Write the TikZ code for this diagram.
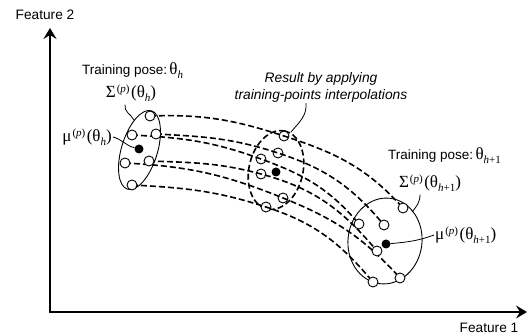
\documentclass[tikz,border=0pt]{standalone}
\usepackage{fontspec}
\setmainfont{Liberation Sans}
\newfontfamily\serf{Liberation Serif}
\usetikzlibrary{arrows.meta,shapes.geometric}

% raised / lowered script parts of the Greek labels
\newcommand\upsc[1]{\raisebox{0.6ex}{\fontsize{11}{11}\selectfont #1}}
\newcommand\dnsc[1]{\raisebox{-0.5ex}{\fontsize{11}{11}\selectfont #1}}
% Sigma^{(p)}(theta_x) style label
\newcommand\gsym[2]{{\serf\fontsize{17}{17}\selectfont #1\kern1pt\upsc{(\textit{p})}\kern1.5pt(θ\dnsc{#2})}}

\tikzset{
  axis/.style={line width=2.8pt, line join=miter,
    {Stealth[length=11pt,width=13pt,inset=4pt]}-{Stealth[length=11pt,width=13pt,inset=4pt]}},
  ptopen/.style={circle, draw, fill=white, line width=0.9pt, minimum size=10pt, inner sep=0pt},
  ptfull/.style={circle, fill=black, minimum size=9pt, inner sep=0pt},
  track/.style={line width=1.6pt, dash pattern=on 6pt off 3pt},
  pose/.style={ellipse, draw, line width=0.9pt, inner sep=0pt},
  leader/.style={line width=0.8pt},
  big/.style={font=\fontsize{13.7}{16}\selectfont},
  small/.style={font=\fontsize{13.5}{16}\selectfont, inner sep=0pt},
}

\begin{document}
\begin{tikzpicture}[x=1pt,y=1pt]
\fill[white] (0,0) rectangle (528,336);
\useasboundingbox (0,0) rectangle (528,336);

% axes
\coordinate (O) at (50,24);
\coordinate (Ytip) at (50,308);
\coordinate (Xtip) at (527,24);
\draw[axis] (Ytip) -- (O) -- (Xtip);
\node[big] (f2) at (45,321) {Feature 2};
\node[big] (f1) at (489,8) {Feature 1};

% interpolated set (middle)
\node[pose, track, minimum width=80pt, minimum height=54pt, rotate=77] (EM) at (276,166) {};
\node[ptopen] (M1) at (284,200) {};
\node[ptopen] (M2) at (278,183) {};
\node[ptopen] (M3) at (261,177) {};
\node[ptfull] (M4) at (276,164) {};
\node[ptopen] (M5) at (261,162) {};
\node[ptopen] (M6) at (283,138) {};
\node[ptopen] (M7) at (266,129) {};

% training points of pose h and h+1
\coordinate (l1) at (150,220);
\coordinate (l2) at (132,201);
\coordinate (l3) at (156,202);
\coordinate (l5) at (125,173);
\coordinate (l6) at (149,175);
\coordinate (l7) at (132,151);
\coordinate (r1) at (403,128);
\coordinate (r2) at (359,112);
\coordinate (r3) at (384,111);
\coordinate (r5) at (377,85);
\coordinate (r6) at (400,58);
\coordinate (r7) at (373,54);

% trajectories
\draw[track] (l1) to[out=2,in=162] (M1.center) to[out=-18,in=132] (r1);
\draw[track] (l3) to[out=-3,in=162] (M2.center) to[out=-18,in=130] (r3);
\draw[track] (l2) to[out=-3,in=160] (M3.center) to[out=-20,in=130] (r2);
\draw[track] (l6) to[out=-2,in=165] (M5.center) to[out=-15,in=130] (r5);
\draw[track] (l5) to[out=-3,in=158] (M6.center) to[out=-22,in=132] (r6);
\draw[track] (l7) to[out=-3,in=162] (M7.center) to[out=-18,in=130] (r7);

\node[pose, minimum width=82pt, minimum height=36pt, rotate=73] (EL) at (139.5,186) {};
\node[pose, minimum width=86pt, minimum height=74pt, rotate=83] (ER) at (385,95) {};

\node[ptopen] (L1) at (l1) {};
\node[ptopen] (L2) at (l2) {};
\node[ptopen] (L3) at (l3) {};
\node[ptfull] (L4) at (139,187) {};
\node[ptopen] (L5) at (l5) {};
\node[ptopen] (L6) at (l6) {};
\node[ptopen] (L7) at (l7) {};

\node[ptopen] (R1) at (r1) {};
\node[ptopen] (R2) at (r2) {};
\node[ptopen] (R3) at (r3) {};
\node[ptfull] (R4) at (386,92) {};
\node[ptopen] (R5) at (r5) {};
\node[ptopen] (R6) at (r6) {};
\node[ptopen] (R7) at (r7) {};

% labels, pose h
\node[small, anchor=west] (tpL) at (82,265)
  {Training pose:\,{\serf\fontsize{17}{17}\selectfont θ\dnsc{\textit{h}}}};
\node (sigL) at (131,243) {\gsym{Σ}{\textit{h}}};
\coordinate (kL) at (134,216);
\draw[leader] ([xshift=-6pt]sigL.south) to[out=-100,in=120] (kL);
\node[anchor=east, inner sep=1pt] (muL) at (113,199) {\gsym{μ}{\textit{h}}};
\draw[leader] (muL.east) to[out=-15,in=165] (L4);

% label, interpolated set
\node[font=\fontsize{13.8}{17}\selectfont\itshape, align=center, inner sep=1pt] (res) at (321,249)
  {Result by applying\\training-points interpolations};
\coordinate (kM) at (291,204);
\draw[leader] ([xshift=-15pt]res.south) to[out=-85,in=50] (kM);

% labels, pose h+1
\node[small, anchor=west] (tpR) at (388,180)
  {Training pose:\,{\serf\fontsize{17}{17}\selectfont θ\dnsc{\textit{h}+1}}};
\node (sigR) at (430,153) {\gsym{Σ}{\textit{h}+1}};
\coordinate (kR) at (412,124);
\draw[leader] ([xshift=-10pt]sigR.south) to[out=-90,in=50] (kR);
\node[anchor=west, inner sep=1pt] (muR) at (434,101) {\gsym{μ}{\textit{h}+1}};
\draw[leader] (R4) to[out=5,in=200] (muR.west);
\end{tikzpicture}
\end{document}
